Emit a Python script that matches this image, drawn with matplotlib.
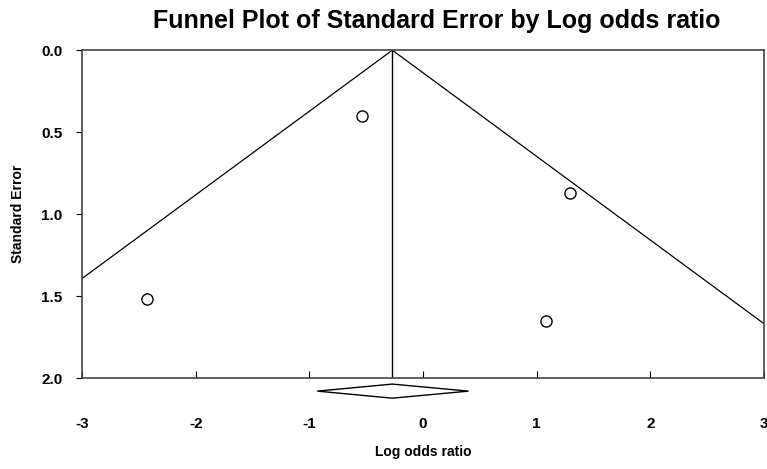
import matplotlib.pyplot as plt
import numpy as np

# study data (log odds ratio, standard error)
log_or = [-0.54, 1.29, -2.43, 1.08]
std_err = [0.40, 0.87, 1.52, 1.65]

pooled = -0.27      # combined estimate
pooled_lo = -0.93   # diamond ends
pooled_hi = 0.40

x_ticks = [-3, -2, -1, 0, 1, 2, 3]
y_ticks = [0.0, 0.5, 1.0, 1.5, 2.0]

plt.rcParams['font.family'] = ['Liberation Sans Narrow', 'Liberation Sans', 'DejaVu Sans']

fig = plt.figure(figsize=(7.67, 4.69), dpi=100)
ax = fig.add_axes([0.107, 0.194, 0.889, 0.699])

# funnel lines from the apex
se_line = np.array([0.0, 2.2])
ax.plot(pooled - 1.96 * se_line, se_line, color='black', lw=0.9)
ax.plot(pooled + 1.96 * se_line, se_line, color='black', lw=0.9)
ax.axvline(pooled, color='black', lw=1.0)

ax.plot(log_or, std_err, 'o', mfc='white', mec='black', ms=8, mew=1.0)

# diamond below the axis
dy = 0.043
yc = 2.08
ax.fill([pooled_lo, pooled, pooled_hi, pooled, pooled_lo],
        [yc, yc - dy, yc, yc + dy, yc],
        facecolor='white', edgecolor='black', lw=1.0, clip_on=False)

ax.set_xlim(-3, 3)
ax.set_ylim(2.0, 0.0)
ax.set_xticks(x_ticks)
ax.set_yticks(y_ticks)
ax.set_xticklabels([str(t) for t in x_ticks], fontweight='bold', fontsize=11)
ax.set_yticklabels(['%.1f' % t for t in y_ticks], fontweight='bold', fontsize=11)
ax.tick_params(axis='x', direction='in', length=5, pad=28)
ax.tick_params(axis='y', direction='out', length=4, pad=10)

for s in ax.spines.values():
    s.set_color('#444444')
    s.set_linewidth(1.2)

ax.set_xlabel('Log odds ratio', fontweight='bold', fontsize=10, labelpad=10)
ax.set_ylabel('Standard Error', fontweight='bold', fontsize=10, labelpad=12)
fig.text(0.57, 0.955, 'Funnel Plot of Standard Error by Log odds ratio',
         ha='center', va='center', fontweight='bold', fontsize=18)

fig.savefig('out.png', dpi=100)
